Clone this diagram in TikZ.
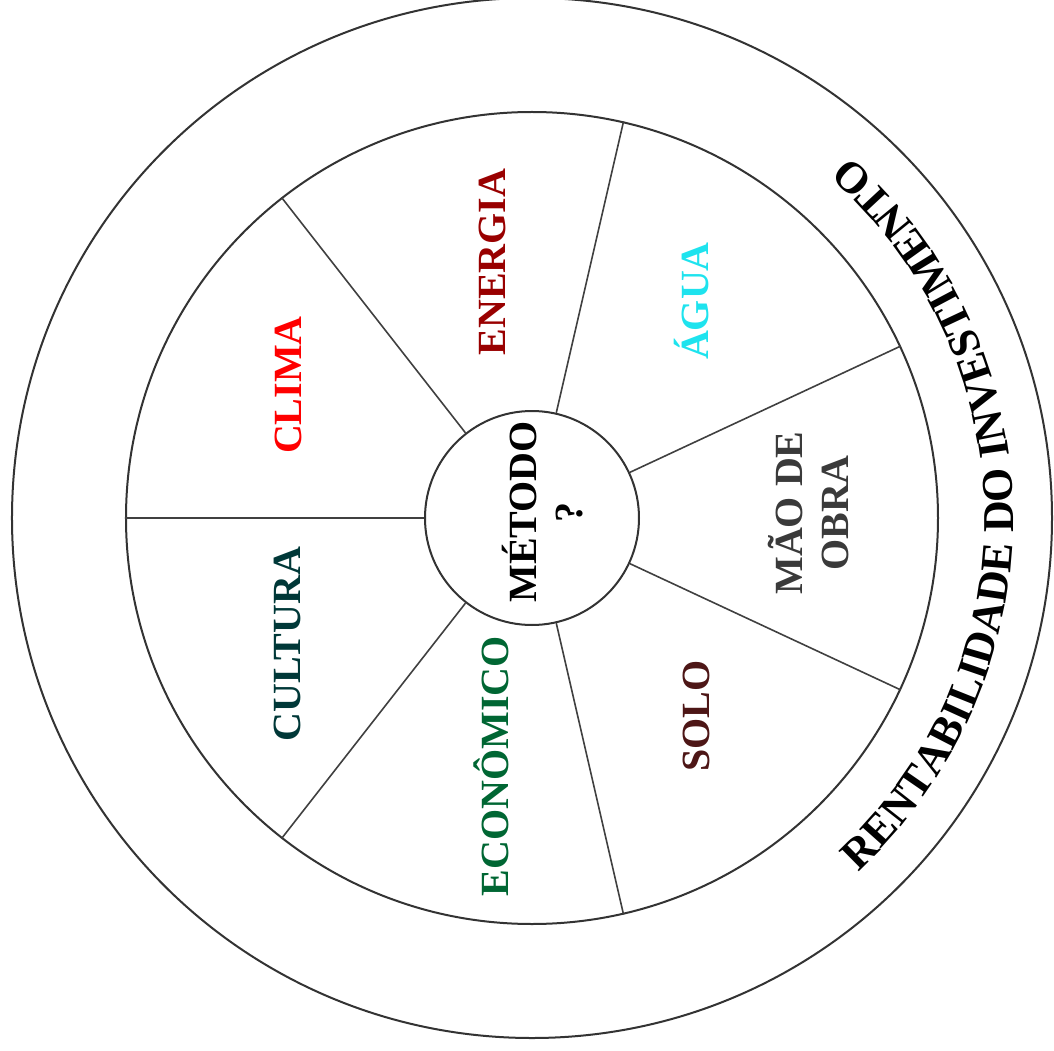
\documentclass[tikz,border=0pt]{standalone}
\usepackage{fontspec}
\setmainfont{Liberation Serif}
\usetikzlibrary{positioning,decorations.text}

\definecolor{climacor}{HTML}{FF0000}
\definecolor{energiacor}{HTML}{990000}
\definecolor{aguacor}{HTML}{1EE3EE}
\definecolor{maocor}{HTML}{3A3A3A}
\definecolor{solocor}{HTML}{4D1616}
\definecolor{economicocor}{HTML}{006633}
\definecolor{culturacor}{HTML}{003838}
\newcommand{\rentfonte}{\fontsize{22}{22}\selectfont\bfseries}

\begin{document}
\begin{tikzpicture}[
  x=0.5pt, y=0.5pt,
  ring/.style={circle, draw=black!80, line width=1pt, inner sep=0pt},
  spoke/.style={draw=black!75, line width=0.8pt},
  rotulo/.style={rotate=90, align=center, inner sep=0pt,
                 font=\fontsize{20}{23}\selectfont\bfseries}
]
  \useasboundingbox (-532,-532) rectangle (522,518);

  % circles
  \node[ring, minimum size=520pt] (externo) at (0,0) {};
  \node[ring, minimum size=406pt] (anel) at (0,0) {};
  \node[ring, minimum size=107pt] (centro) at (0,0) {};

  % seven spokes
  \foreach \k [evaluate=\k as \ang using 180-\k*360/7] in {0,...,6}
    \draw[spoke] (centro.\ang) -- (anel.\ang);

  % sectors
  \node[rotulo] (metodo) at (11,6) {MÉTODO\\?};
  \node[rotulo, text=climacor] (clima) at (-244,133) {CLIMA};
  \node[rotulo, text=energiacor] (energia) at (-40,256) {ENERGIA};
  \node[rotulo, text=aguacor] (agua) at (160,217) {ÁGUA};
  \node[rotulo, text=maocor] (mao) at (277,5) {MÃO DE\\OBRA};
  \node[rotulo, text=solocor] (solo) at (164,-198) {SOLO};
  \node[rotulo, text=economicocor] (economico) at (-41,-248) {ECONÔMICO};
  \node[rotulo, text=culturacor] (cultura) at (-245,-126) {CULTURA};

  % outer band
  \path[decorate, decoration={text along path, text align=center,
        text={|\rentfonte|RENTABILIDADE DO INVESTIMENTO}}]
    (-79.3:481) arc[start angle=-79.3, end angle=80.7, radius=481];
\end{tikzpicture}
\end{document}
